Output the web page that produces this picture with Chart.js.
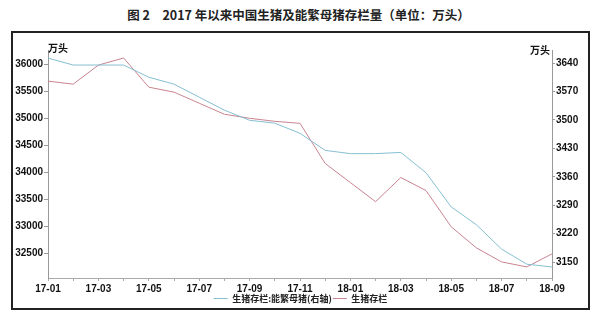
<!DOCTYPE html>
<html>
<head>
<meta charset="utf-8">
<script src="https://cdn.jsdelivr.net/npm/chart.js@4/dist/chart.umd.min.js"></script>
<style>
  html, body { margin: 0; padding: 0; background: #fff; }
  body { width: 597px; height: 318px; position: relative; overflow: hidden; }
  #title {
    position: absolute; left: 0; top: 5px; width: 597px; text-align: center;
    font: bold 12.5px "Noto Sans CJK SC", sans-serif; color: #222;
  }
  #box {
    position: absolute; left: 11px; top: 31px; width: 575px; height: 275px;
    border: 2px solid #222;
  }
</style>
</head>
<body>
<div id="title">图 2　2017 年以来中国生猪及能繁母猪存栏量（单位：万头）</div>
<div id="box"><canvas id="chart" width="575" height="275"></canvas></div>
<script>
// months from 17-01 to 18-09
const months = ['17-01','17-02','17-03','17-04','17-05','17-06','17-07','17-08','17-09','17-10','17-11','17-12',
                '18-01','18-02','18-03','18-04','18-05','18-06','18-07','18-08','18-09'];

// 生猪存栏 (left axis, 万头)
const hogStock = [35684, 35628, 35981, 36112, 35572, 35480, 35275, 35071, 34996, 34940, 34903, 34160,
                  33806, 33453, 33900, 33658, 32988, 32597, 32338, 32245, 32487];

// 能繁母猪存栏 (right axis, 万头)
const sowStock = [3652, 3635, 3635, 3635, 3605, 3588, 3556, 3524, 3499, 3492, 3467, 3425,
                  3417, 3417, 3420, 3370, 3286, 3242, 3182, 3145, 3138];

const leftTicks = [32500, 33000, 33500, 34000, 34500, 35000, 35500, 36000];
const rightTicks = [3150, 3220, 3290, 3360, 3430, 3500, 3570, 3640];

const tickFont = { family: 'Liberation Sans', size: 10, weight: 'bold' };

// 万头 labels above both y axes
const unitLabels = {
    id: 'unitLabels',
    afterDraw(chart) {
        const ctx = chart.ctx;
        const a = chart.chartArea;
        ctx.save();
        ctx.font = 'bold 10px "Noto Sans CJK SC"';
        ctx.fillStyle = '#111';
        ctx.textBaseline = 'middle';
        ctx.textAlign = 'left';
        ctx.fillText('万头', a.left, a.top - 2);
        ctx.textAlign = 'right';
        ctx.fillText('万头', a.right - 2, a.top);
        ctx.restore();
    }
};

new Chart(document.getElementById('chart'), {
    type: 'line',
    data: {
        labels: months,
        datasets: [
            {
                label: '生猪存栏:能繁母猪(右轴)',
                data: sowStock,
                yAxisID: 'y1',
                borderColor: '#86bfd2',
                borderWidth: 1,
                pointRadius: 0,
                tension: 0
            },
            {
                label: '生猪存栏',
                data: hogStock,
                yAxisID: 'y',
                borderColor: '#c98490',
                borderWidth: 1,
                pointRadius: 0,
                tension: 0
            }
        ]
    },
    options: {
        responsive: false,
        animation: false,
        layout: { padding: { top: 17, left: 0, right: 0, bottom: -5 } },
        plugins: {
            legend: {
                position: 'bottom',
                labels: {
                    usePointStyle: true,
                    pointStyle: 'line',
                    pointStyleWidth: 14,
                    color: '#222',
                    padding: 1,
                    font: { family: 'Noto Sans CJK SC', size: 9, weight: 'bold' }
                }
            },
            tooltip: { enabled: false }
        },
        scales: {
            x: {
                offset: false,
                grid: { drawOnChartArea: false, tickLength: 3, color: '#aaa' },
                border: { color: '#aaa' },
                ticks: {
                    autoSkip: false,
                    maxRotation: 0,
                    padding: 2,
                    color: '#111',
                    font: tickFont,
                    callback: (v, i) => (i % 2 === 0 ? months[i] : '')
                },
                afterFit: s => { s.height = 15; }
            },
            y: {
                position: 'left',
                min: 32040,
                max: 36260,
                afterBuildTicks: s => { s.ticks = leftTicks.map(v => ({ value: v })); },
                grid: { drawOnChartArea: false, tickLength: 4, color: '#999' },
                border: { color: '#999', dash: [2, 2] },
                ticks: { padding: 1, color: '#111', font: tickFont, callback: v => String(v) },
                afterFit: s => { s.width = 35; }
            },
            y1: {
                position: 'right',
                min: 3111,
                max: 3672,
                afterBuildTicks: s => { s.ticks = rightTicks.map(v => ({ value: v })); },
                grid: { drawOnChartArea: false, tickLength: 3, color: '#999' },
                border: { color: '#999', dash: [2, 2] },
                ticks: { padding: 1, color: '#111', font: tickFont, callback: v => String(v) },
                afterFit: s => { s.width = 36; }
            }
        }
    },
    plugins: [unitLabels]
});
</script>
</body>
</html>
